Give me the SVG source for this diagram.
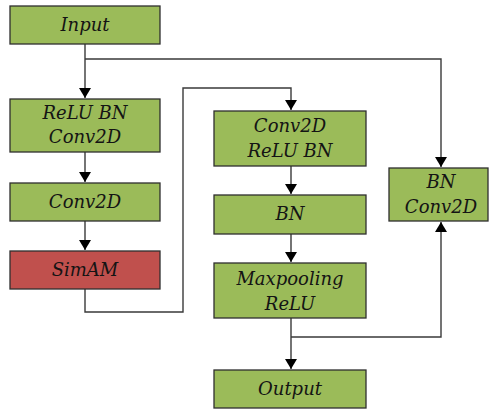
<svg xmlns="http://www.w3.org/2000/svg" width="490" height="410" viewBox="0 0 490 410">
  <style>
    .box { fill: #9BBB59; stroke: #2f2f2f; stroke-width: 1.3; }
    .att { fill: #C0504D; stroke: #2f2f2f; stroke-width: 1.3; }
    .lbl { font-family: "DejaVu Serif", "Liberation Serif", serif; font-style: italic; font-size: 18px; fill: #141414; text-anchor: middle; }
    .wire { fill: none; stroke: #3a3a3a; stroke-width: 1.4; }
  </style>
  <defs>
    <marker id="arrow" viewBox="0 0 10 12" refX="10" refY="6" markerWidth="10" markerHeight="12" markerUnits="userSpaceOnUse" orient="auto">
      <path d="M0,0 L10,6 L0,12 Z" fill="#000"/>
    </marker>
  </defs>
  <rect width="490" height="410" fill="#fff"/>

  <g id="connectors">
    <!-- Input to first block -->
    <path class="wire" d="M85,44 V98" marker-end="url(#arrow)"/>
    <!-- skip branch from input to right-hand block -->
    <path class="wire" d="M85,59 H441 V167" marker-end="url(#arrow)"/>
    <path class="wire" d="M85,152 V182" marker-end="url(#arrow)"/>
    <path class="wire" d="M85,221 V250" marker-end="url(#arrow)"/>
    <!-- SimAM to middle column -->
    <path class="wire" d="M85,289 V312 H183 V88 H291 V110" marker-end="url(#arrow)"/>
    <path class="wire" d="M291,166 V194" marker-end="url(#arrow)"/>
    <path class="wire" d="M291,234 V262" marker-end="url(#arrow)"/>
    <path class="wire" d="M291,318 V369" marker-end="url(#arrow)"/>
    <!-- merge branch into right-hand block -->
    <path class="wire" d="M291,337 H441 V222" marker-end="url(#arrow)"/>
  </g>

  <g id="input">
    <rect class="box" x="10" y="6" width="150" height="38"/>
    <text class="lbl" x="85" y="31">Input</text>
  </g>
  <g id="relu-bn-conv2d">
    <rect class="box" x="10" y="99" width="150" height="53"/>
    <text class="lbl" x="85" y="119">ReLU BN</text>
    <text class="lbl" x="85" y="143">Conv2D</text>
  </g>
  <g id="conv2d">
    <rect class="box" x="10" y="183" width="150" height="38"/>
    <text class="lbl" x="85" y="208">Conv2D</text>
  </g>
  <g id="simam">
    <rect class="att" x="10" y="251" width="150" height="38"/>
    <text class="lbl" x="85" y="276">SimAM</text>
  </g>
  <g id="conv2d-relu-bn">
    <rect class="box" x="214" y="111" width="152" height="55"/>
    <text class="lbl" x="290" y="132">Conv2D</text>
    <text class="lbl" x="290" y="157">ReLU BN</text>
  </g>
  <g id="bn">
    <rect class="box" x="214" y="195" width="152" height="39"/>
    <text class="lbl" x="290" y="220">BN</text>
  </g>
  <g id="maxpooling-relu">
    <rect class="box" x="214" y="263" width="152" height="55"/>
    <text class="lbl" x="290" y="285">Maxpooling</text>
    <text class="lbl" x="290" y="310">ReLU</text>
  </g>
  <g id="output">
    <rect class="box" x="214" y="370" width="152" height="38"/>
    <text class="lbl" x="290" y="395">Output</text>
  </g>
  <g id="bn-conv2d">
    <rect class="box" x="389" y="168" width="99" height="53"/>
    <text class="lbl" x="441" y="188">BN</text>
    <text class="lbl" x="441" y="213">Conv2D</text>
  </g>
</svg>
